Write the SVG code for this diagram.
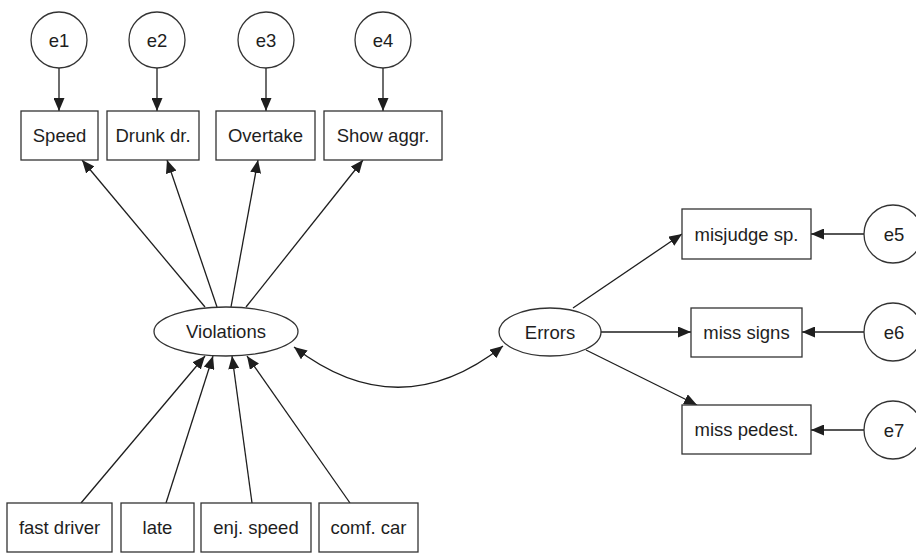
<svg xmlns="http://www.w3.org/2000/svg" width="916" height="553" viewBox="0 0 916 553">
<defs>
<marker id="ah" viewBox="0 0 13 11" refX="13" refY="5.5" markerWidth="13" markerHeight="11" markerUnits="userSpaceOnUse" orient="auto-start-reverse">
<path d="M0,0 L13,5.5 L0,11 z" fill="#1e1e1e"/>
</marker>
<style>
.n{fill:#fff;stroke:#333;stroke-width:1.3}
.t{font-family:"Liberation Sans",Arial,sans-serif;font-size:18.5px;fill:#1e1e1e;text-anchor:middle;dominant-baseline:central}
.c{fill:none;stroke:#1e1e1e;stroke-width:1.3}
</style>
</defs>
<rect width="916" height="553" fill="#fff"/>
<g id="connectors">
<line class="c" x1="59" y1="68" x2="59" y2="111" marker-end="url(#ah)"/>
<line class="c" x1="157" y1="68" x2="157" y2="111" marker-end="url(#ah)"/>
<line class="c" x1="266" y1="68" x2="266" y2="111" marker-end="url(#ah)"/>
<line class="c" x1="383" y1="68" x2="383" y2="111" marker-end="url(#ah)"/>
<line class="c" x1="205" y1="307" x2="82" y2="160" marker-end="url(#ah)"/>
<line class="c" x1="217" y1="307" x2="167" y2="160" marker-end="url(#ah)"/>
<line class="c" x1="231" y1="307" x2="258" y2="160" marker-end="url(#ah)"/>
<line class="c" x1="246" y1="307" x2="363" y2="160" marker-end="url(#ah)"/>
<line class="c" x1="81" y1="503" x2="205" y2="356" marker-end="url(#ah)"/>
<line class="c" x1="166" y1="503" x2="213" y2="356" marker-end="url(#ah)"/>
<line class="c" x1="252" y1="503" x2="232" y2="356" marker-end="url(#ah)"/>
<line class="c" x1="350" y1="503" x2="247" y2="356" marker-end="url(#ah)"/>
<path class="c" d="M294,347 Q399,428 503,346" marker-start="url(#ah)" marker-end="url(#ah)"/>
<line class="c" x1="573" y1="308" x2="682" y2="234" marker-end="url(#ah)"/>
<line class="c" x1="601" y1="332" x2="691" y2="332" marker-end="url(#ah)"/>
<line class="c" x1="586" y1="350" x2="697" y2="405" marker-end="url(#ah)"/>
<line class="c" x1="864" y1="234" x2="811" y2="234" marker-end="url(#ah)"/>
<line class="c" x1="864" y1="332" x2="802" y2="332" marker-end="url(#ah)"/>
<line class="c" x1="864" y1="430" x2="811" y2="430" marker-end="url(#ah)"/>
</g>
<g id="e1"><circle class="n" cx="59" cy="40" r="28"/><text class="t" x="59" y="40">e1</text></g>
<g id="e2"><circle class="n" cx="157" cy="40" r="28"/><text class="t" x="157" y="40">e2</text></g>
<g id="e3"><circle class="n" cx="266" cy="40" r="28"/><text class="t" x="266" y="40">e3</text></g>
<g id="e4"><circle class="n" cx="383" cy="40" r="28"/><text class="t" x="383" y="40">e4</text></g>
<g id="speed"><rect class="n" x="21" y="111" width="77" height="49"/><text class="t" x="59.5" y="135.5">Speed</text></g>
<g id="drunk"><rect class="n" x="107" y="111" width="92" height="49"/><text class="t" x="153" y="135.5">Drunk dr.</text></g>
<g id="overtake"><rect class="n" x="216" y="111" width="99" height="49"/><text class="t" x="265.5" y="135.5">Overtake</text></g>
<g id="showaggr"><rect class="n" x="324" y="111" width="118" height="49"/><text class="t" x="383" y="135.5">Show aggr.</text></g>
<g id="violations"><ellipse class="n" cx="226" cy="331.5" rx="72" ry="24.5"/><text class="t" x="226" y="331.5">Violations</text></g>
<g id="errors"><ellipse class="n" cx="550" cy="332" rx="51" ry="24"/><text class="t" x="550" y="332">Errors</text></g>
<g id="misjudge"><rect class="n" x="682" y="209" width="129" height="50"/><text class="t" x="746.5" y="234">misjudge sp.</text></g>
<g id="misssigns"><rect class="n" x="691" y="308" width="111" height="49"/><text class="t" x="746.5" y="332.5">miss signs</text></g>
<g id="misspedest"><rect class="n" x="682" y="405" width="129" height="49"/><text class="t" x="746.5" y="429.5">miss pedest.</text></g>
<g id="e5"><circle class="n" cx="893" cy="234" r="29"/><text class="t" x="894" y="234">e5</text></g>
<g id="e6"><circle class="n" cx="893" cy="332" r="29"/><text class="t" x="894" y="332">e6</text></g>
<g id="e7"><circle class="n" cx="893" cy="430" r="29"/><text class="t" x="894" y="430">e7</text></g>
<g id="fastdriver"><rect class="n" x="7" y="503" width="105" height="49"/><text class="t" x="59.5" y="527.5">fast driver</text></g>
<g id="late"><rect class="n" x="121" y="503" width="73" height="49"/><text class="t" x="157.5" y="527.5">late</text></g>
<g id="enjspeed"><rect class="n" x="201" y="503" width="110" height="49"/><text class="t" x="256" y="527.5">enj. speed</text></g>
<g id="comfcar"><rect class="n" x="319" y="503" width="99" height="49"/><text class="t" x="368.5" y="527.5">comf. car</text></g>
</svg>
